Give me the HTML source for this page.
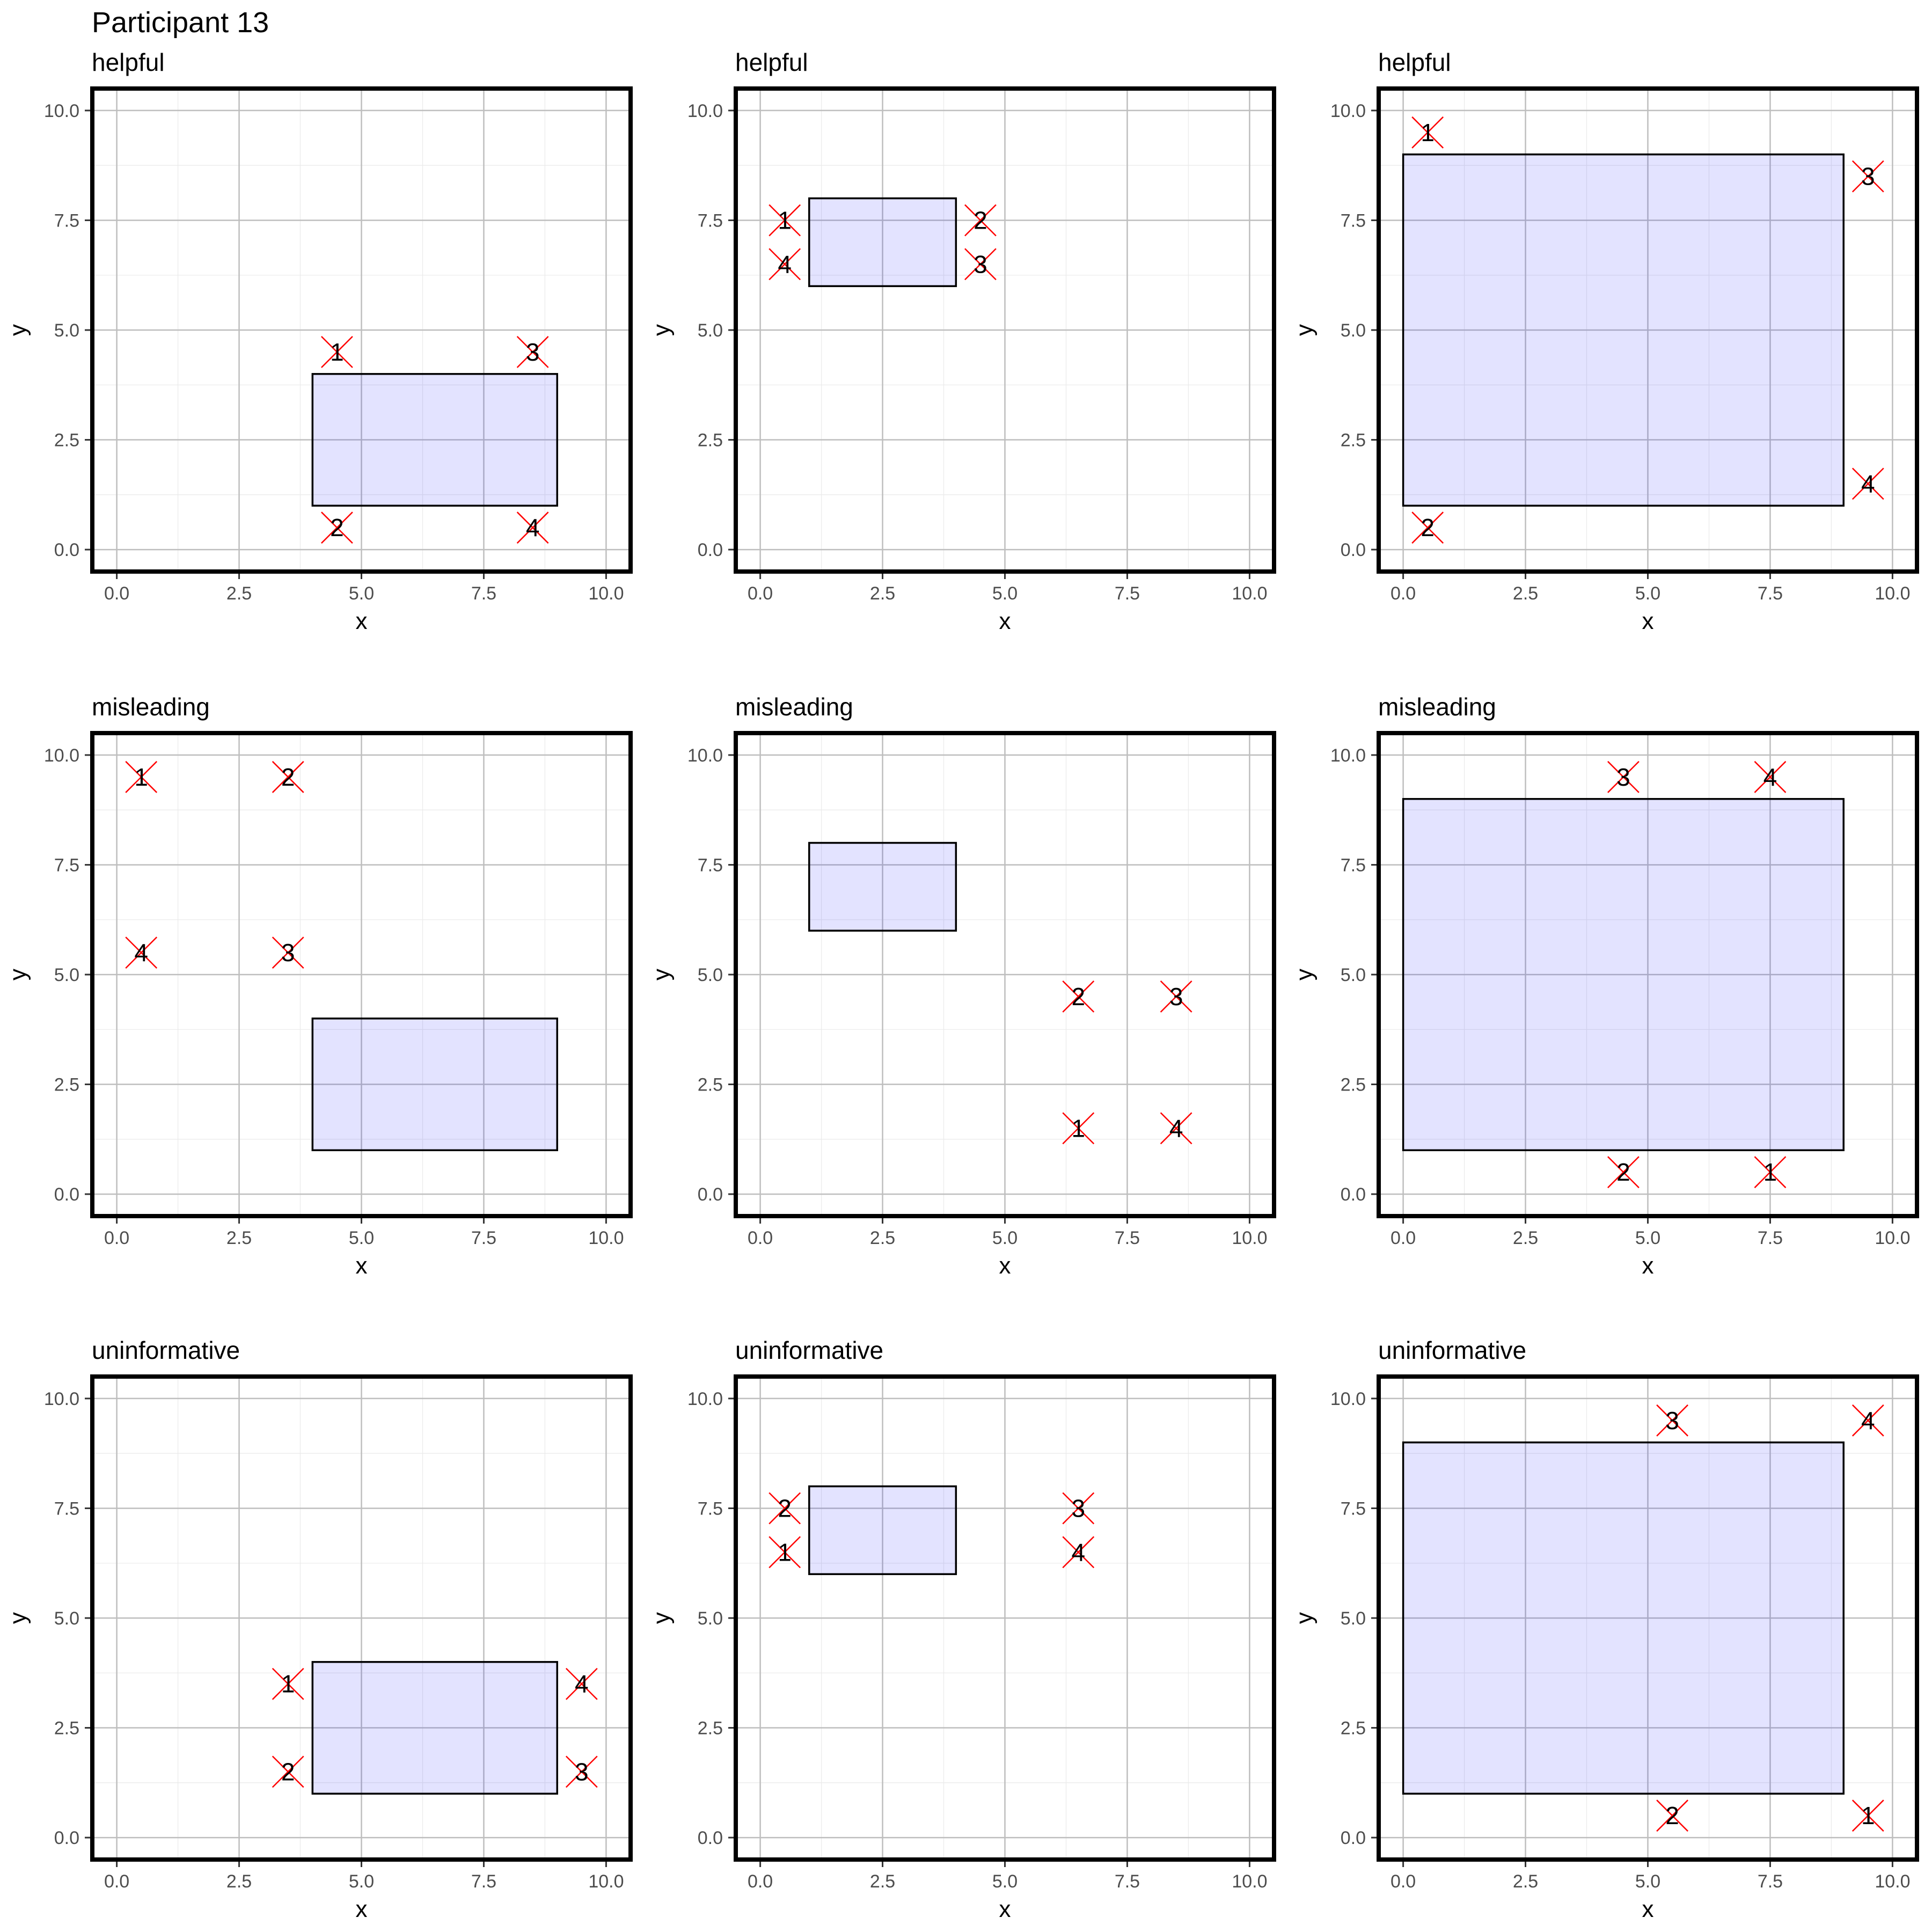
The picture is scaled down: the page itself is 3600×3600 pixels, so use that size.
<!DOCTYPE html>
<html><head><meta charset="utf-8"><style>
html,body{margin:0;padding:0;background:#fff;}
svg{display:block;font-family:"Liberation Sans",sans-serif;}
</style></head><body>
<svg id="chart" width="3600" height="3600" viewBox="0 0 3600 3600">
<text x="171" y="60" font-size="54" fill="#000">Participant 13</text>
</svg>
<script>
const panelTitles = ["helpful","helpful","helpful","misleading","misleading","misleading","uninformative","uninformative","uninformative"];
const rectX0 = [4,1,0,4,1,0,4,1,0];
const rectX1 = [9,4,9,9,4,9,9,4,9];
const rectY0 = [1,6,1,1,6,1,1,6,1];
const rectY1 = [4,8,9,4,8,9,4,8,9];
const pointLabels = [
 ["1","2","3","4"],["1","4","2","3"],["1","2","3","4"],
 ["1","2","4","3"],["2","3","1","4"],["3","4","2","1"],
 ["1","2","4","3"],["2","1","3","4"],["3","4","2","1"]];
const pointX = [
 [4.5,4.5,8.5,8.5],[0.5,0.5,4.5,4.5],[0.5,0.5,9.5,9.5],
 [0.5,3.5,0.5,3.5],[6.5,8.5,6.5,8.5],[4.5,7.5,4.5,7.5],
 [3.5,3.5,9.5,9.5],[0.5,0.5,6.5,6.5],[5.5,9.5,5.5,9.5]];
const pointY = [
 [4.5,0.5,4.5,0.5],[7.5,6.5,7.5,6.5],[9.5,0.5,8.5,1.5],
 [9.5,9.5,5.5,5.5],[4.5,4.5,1.5,1.5],[9.5,9.5,0.5,0.5],
 [3.5,1.5,3.5,1.5],[7.5,6.5,7.5,6.5],[9.5,9.5,0.5,0.5]];
const majorTicks = [0,2.5,5,7.5,10];
const tickLabels = ["0.0","2.5","5.0","7.5","10.0"];
const minorTicks = [1.25,3.75,6.25,8.75];

const NS="http://www.w3.org/2000/svg";
const svg=document.getElementById('chart');
const colLeft=[172,1371,2569], rowTop=[165,1366,2565];
const PW=1003, PH=900;
function mk(tag,attrs,parent){const e=document.createElementNS(NS,tag);for(const k in attrs)e.setAttribute(k,attrs[k]);(parent||svg).appendChild(e);return e;}

for(let p=0;p<9;p++){
  const L=colLeft[p%3], T=rowTop[Math.floor(p/3)];
  const sx=v=>L+(v+0.5)/11*PW;
  const sy=v=>T+PH-(v+0.5)/11*PH;
  const g=mk('g',{});
  
  
  const st=mk('text',{x:L-1,y:T-33,'font-size':46,fill:'#000'},g);
  st.textContent=panelTitles[p];
  
  
  minorTicks.forEach(v=>{
    mk('line',{x1:sx(v),x2:sx(v),y1:T,y2:T+PH,stroke:'#ebebeb','stroke-width':1.3},g);
    mk('line',{x1:L,x2:L+PW,y1:sy(v),y2:sy(v),stroke:'#ebebeb','stroke-width':1.3},g);
  });
  majorTicks.forEach((v,i)=>{
    const gx=mk('line',{x1:sx(v),x2:sx(v),y1:T,y2:T+PH,stroke:'#bebebe','stroke-width':2.5},g);
    
    
    const gy=mk('line',{x1:L,x2:L+PW,y1:sy(v),y2:sy(v),stroke:'#bebebe','stroke-width':2.5},g);
    
    
    mk('line',{x1:sx(v),x2:sx(v),y1:T+PH,y2:T+PH+14,stroke:'#333','stroke-width':3},g);
    mk('line',{x1:L-14,x2:L,y1:sy(v),y2:sy(v),stroke:'#333','stroke-width':3},g);
    const xl=mk('text',{x:sx(v),y:T+PH+52,'font-size':34,fill:'#4d4d4d','text-anchor':'middle'},g);
    xl.textContent=tickLabels[i];
    
    
    const yl=mk('text',{x:L-24,y:sy(v)+12,'font-size':34,fill:'#4d4d4d','text-anchor':'end'},g);
    yl.textContent=tickLabels[i];
    
    
  });
  const r=mk('rect',{x:sx(rectX0[p]),y:sy(rectY1[p]),width:sx(rectX1[p])-sx(rectX0[p]),height:sy(rectY0[p])-sy(rectY1[p]),fill:'rgba(0,0,255,0.11)',stroke:'#000','stroke-width':3.5},g);
  
  
  for(let k=0;k<4;k++){
    const cx=sx(pointX[p][k]), cy=sy(pointY[p][k]), h=29;
    const m=mk('g',{},g);
    
    
    mk('line',{x1:cx-h,y1:cy-h,x2:cx+h,y2:cy+h,stroke:'#ff0000','stroke-width':2.5},m);
    mk('line',{x1:cx-h,y1:cy+h,x2:cx+h,y2:cy-h,stroke:'#ff0000','stroke-width':2.5},m);
    const t=mk('text',{x:cx,y:cy+16,'font-size':46,fill:'#000','text-anchor':'middle'},m);
    t.textContent=pointLabels[p][k];
  }
  const b=mk('rect',{x:L,y:T,width:PW,height:PH,fill:'none',stroke:'#000','stroke-width':8},g);
  
  
  const xt=mk('text',{x:L+PW/2,y:T+PH+107,'font-size':44,fill:'#000','text-anchor':'middle'},g);
  xt.textContent='x';
  
  
  const yt=mk('text',{x:0,y:0,'font-size':44,fill:'#000','text-anchor':'middle',transform:`translate(${L-124},${T+PH/2}) rotate(-90)`},g);
  yt.textContent='y';
  
  
}
</script>
</body></html>
